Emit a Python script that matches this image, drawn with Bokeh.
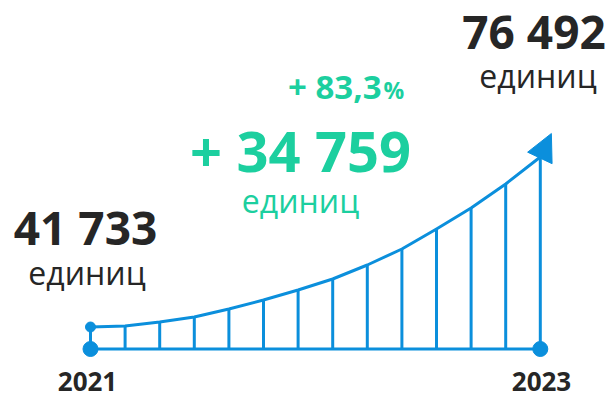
from bokeh.plotting import figure
from bokeh.models import Range1d, Arrow, NormalHead, ColumnDataSource
from bokeh.core.properties import value
from bokeh.embed import file_html
from bokeh.resources import INLINE

# ---- data ----
years = ["2021", "2023"]
values = [41733, 76492]
unit_label = "единиц"
# decorative growth curve: heights of the 14 stems (px above baseline)
stem_index = [0, 1, 2, 3, 4, 5, 6, 7, 8, 9, 10, 11, 12, 13]
stem_height = [22, 23, 27, 32, 40, 49, 59, 70, 84, 100, 120, 141, 165, 192]
arrow_tip = (13.32, 215.5)

diff = values[1] - values[0]
pct = diff / values[0] * 100


def fmt(n):
    return f"{n:,}".replace(",", " ")


BLUE = "#0b8fdc"
GREEN = "#1ccf9f"
DARK = "#262626"
STEP = 34.6   # px per stem
X0 = 90       # px of first stem
BASE = 348.5  # px of baseline


def px(x):
    return (x - X0) / STEP


def py(y):
    return BASE - y


p = figure(width=613, height=401, output_backend="svg", toolbar_location=None,
           x_range=Range1d(px(0), px(613)), y_range=Range1d(py(401), py(0)),
           min_border=0, outline_line_color=None)
p.axis.visible = False
p.grid.visible = False
p.background_fill_color = "white"
p.border_fill_color = "white"

src = ColumnDataSource(dict(x=stem_index, h=stem_height, z=[0] * len(stem_index)))

# stems
p.segment(x0="x", y0="z", x1="x", y1="h", source=src, line_color=BLUE, line_width=3)
# baseline
p.line(x=[stem_index[0], stem_index[-1]], y=[0, 0], line_color=BLUE, line_width=3)
# curve
p.line(x="x", y="h", source=src, line_color=BLUE, line_width=3, line_join="round")
# arrow head
p.add_layout(Arrow(end=NormalHead(size=27, fill_color=BLUE, line_color=BLUE, line_width=1),
                   x_start=stem_index[-1], y_start=stem_height[-1],
                   x_end=arrow_tip[0], y_end=arrow_tip[1],
                   line_color=BLUE, line_width=3))
# dots
p.scatter(x=[stem_index[0], stem_index[-1]], y=[0, 0], size=15, color=BLUE)
p.scatter(x=[stem_index[0]], y=[stem_height[0]], size=10, color=BLUE)


def txt(x, y, s, size, color, bold=False, align="center"):
    # y is the visual baseline in px; compensate renderer baseline offset
    yb = y - 0.38 * size
    p.text(x=[px(x)], y=[py(yb)], text=[s], text_font=value("Open Sans"),
           text_font_size=f"{size}px", text_color=color,
           text_font_style="bold" if bold else "normal",
           text_align=align, text_baseline="alphabetic")


# left value
txt(85, 244, fmt(values[0]), 46, DARK, bold=True)
txt(86.5, 284, unit_label, 32, DARK)
# right value
txt(533.5, 47.5, fmt(values[1]), 46, DARK, bold=True)
txt(537.5, 87, unit_label, 32, DARK)
# growth
txt(381, 99, "+ " + f"{pct:.1f}".replace(".", ","), 33, GREEN, bold=True, align="right")
txt(383, 98, "%", 23, GREEN, bold=True, align="left")
txt(300, 170.5, "+ " + fmt(diff), 56, GREEN, bold=True)
txt(300, 212, unit_label, 32, GREEN)
# years
txt(87, 391, years[0], 26, DARK, bold=True)
txt(541, 391, years[1], 26, DARK, bold=True)

open("out.html", "w").write(file_html(p, INLINE))
